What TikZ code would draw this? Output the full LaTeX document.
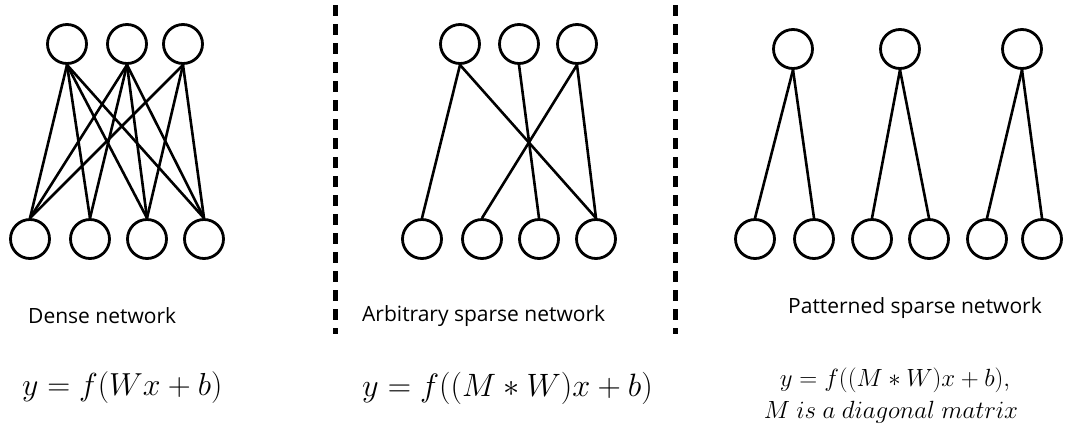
\documentclass[tikz,border=0pt]{standalone}
\usepackage{graphicx}
\usepackage{fontspec}
\setmainfont{Open Sans}
\begin{document}
\begin{tikzpicture}[x=1pt,y=-1pt,
  neuron/.style={circle,draw,line width=2.8pt,minimum size=39pt,inner sep=0pt},
  conn/.style={line width=2.6pt},
  sep/.style={line width=5pt,dash pattern=on 11pt off 8pt},
  lbl/.style={font=\fontsize{21}{25}\selectfont,anchor=west,inner sep=0pt},
  eq/.style={font=\fontsize{24.88}{30}\selectfont,anchor=west,inner sep=0pt},
  eqs/.style={font=\fontsize{24.88}{30}\selectfont,inner sep=0pt}]
\useasboundingbox (0,0) rectangle (1071,432);
% Dense
\foreach \n/\x in {1/67,2/127,3/183} \node[neuron] (dt\n) at (\x,44) {};
\foreach \n/\x in {1/30,2/90,3/147,4/204} \node[neuron] (db\n) at (\x,239) {};
\foreach \t/\b in {1/1,1/2,1/3,1/4,2/1,2/2,2/3,2/4,3/1,3/3,3/4}
  \draw[conn] (dt\t.south) -- (db\b.north);
% Arbitrary
\foreach \n/\x in {1/460,2/519,3/577} \node[neuron] (at\n) at (\x,44) {};
\foreach \n/\x in {1/422,2/482,3/539,4/596} \node[neuron] (ab\n) at (\x,239) {};
\foreach \t/\b in {1/1,1/4,2/3,3/2,3/4}
  \draw[conn] (at\t.south) -- (ab\b.north);
% Patterned
\foreach \n/\x in {1/793,2/900,3/1022} \node[neuron] (pt\n) at (\x,49) {};
\foreach \n/\x in {1/755,2/814,3/872,4/929,5/987,6/1042} \node[neuron] (pb\n) at (\x,239) {};
\foreach \t/\b in {1/1,1/2,2/3,2/4,3/5,3/6}
  \draw[conn] (pt\t.south) -- (pb\b.north);
% separators
\coordinate (s1a) at (335,5); \coordinate (s1b) at (335,334);
\coordinate (s2a) at (675,5); \coordinate (s2b) at (675,334);
\draw[sep] (s1a) -- (s1b);
\draw[sep] (s2a) -- (s2b);
% labels
\node[lbl] (l1) at (28,316) {Dense network};
\node[lbl] (l2) at (362,316) {Arbitrary sparse network};
\node[lbl] (l3) at (788,308) {Patterned sparse network};
\node[eq] (e1) at (22,388) {\scalebox{1.28}{$y=f(Wx+b)$}};
\node[eq] (e2) at (362,388) {\scalebox{1.3}{$y=f((M*W)x+b)$}};
\node[eqs] (e3) at (895,380) {$y=f\bigl((M*W)x+b\bigr),$};
\node[eqs] (e4) at (891,412) {$M\ is\ a\ diagonal\ matrix$};
\end{tikzpicture}
\end{document}
